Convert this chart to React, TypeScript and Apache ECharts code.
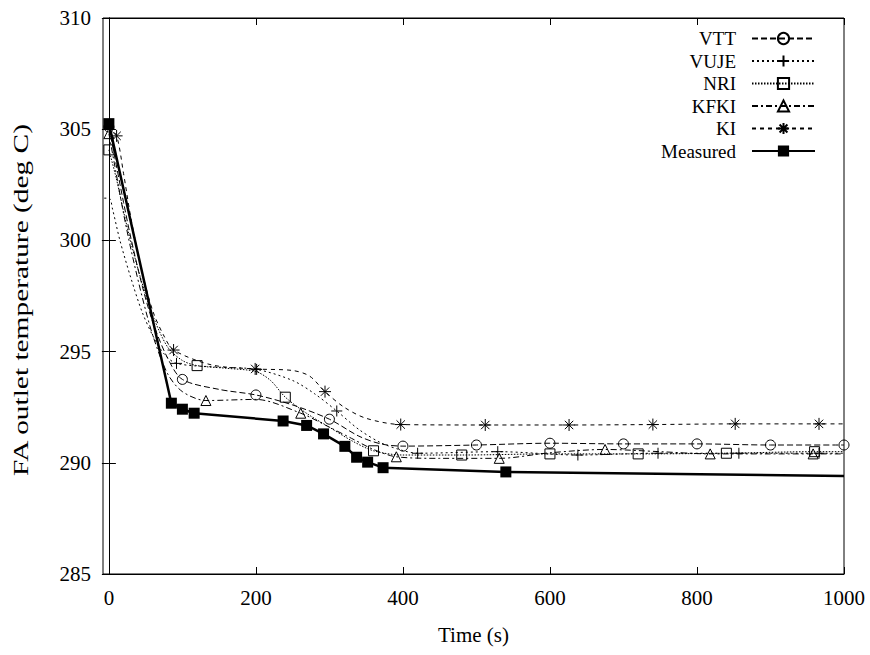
import React, { useEffect, useRef } from "react";
import * as echarts from "echarts";

const FONT = "Liberation Serif";

// x-axis and y-axis ticks
const timeTicks = [0, 200, 400, 600, 800, 1000];
const tempMin = 285;
const tempMax = 310;
const yTitle = "FA outlet temperature (deg C)";

// VTT calculation (marked every 100 s)
const vttTime = [0, 10, 20, 30, 45, 60, 80, 100, 150, 200, 250, 300, 340, 370, 400, 500, 600, 700, 800, 900, 1000];
const vttTemp = [305.1, 303.4, 301.7, 300.1, 298.0, 296.3, 294.7, 293.75, 293.3, 293.05, 292.6, 291.96, 291.2, 290.85, 290.75, 290.8, 290.88, 290.85, 290.85, 290.8, 290.8];
const vttMarked = [1, 0, 0, 0, 0, 0, 0, 1, 0, 1, 0, 1, 0, 0, 1, 1, 1, 1, 1, 1, 1];

// VUJE calculation
const vujeTime = [-20, 0, 5, 15, 30, 45, 60, 75, 92, 150, 201, 250, 280, 310, 340, 370, 400, 420, 529, 638, 747, 857, 966, 1000];
const vujeTemp = [301.9, 301.9, 301.4, 300.0, 298.3, 296.8, 295.7, 294.9, 294.47, 294.3, 294.2, 293.7, 293.1, 292.33, 291.5, 290.9, 290.55, 290.43, 290.5, 290.35, 290.43, 290.43, 290.43, 290.43];
const vujeMarked = [0, 0, 0, 0, 0, 0, 0, 0, 1, 0, 1, 0, 0, 1, 0, 0, 0, 1, 1, 1, 1, 1, 1, 0];

// NRI calculation
const nriTime = [0, 10, 20, 30, 45, 60, 80, 100, 120, 160, 200, 220, 240, 270, 300, 330, 360, 400, 480, 600, 720, 840, 960, 1000];
const nriTemp = [304.07, 302.8, 301.3, 299.9, 298.1, 296.6, 295.2, 294.6, 294.37, 294.25, 294.1, 293.7, 292.95, 292.2, 291.6, 291.0, 290.54, 290.35, 290.35, 290.4, 290.4, 290.43, 290.5, 290.5];
const nriMarked = [1, 0, 0, 0, 0, 0, 0, 0, 1, 0, 0, 0, 1, 0, 0, 0, 1, 0, 1, 1, 1, 1, 1, 0];

// KFKI calculation
const kfkiTime = [0, 10, 20, 30, 45, 60, 80, 100, 132, 200, 261, 300, 330, 360, 391, 450, 531, 600, 675, 750, 818, 900, 958, 1000];
const kfkiTemp = [304.8, 303.0, 301.2, 299.6, 297.5, 295.7, 294.0, 293.2, 292.8, 292.85, 292.23, 291.6, 291.1, 290.6, 290.27, 290.2, 290.2, 290.45, 290.6, 290.5, 290.4, 290.4, 290.4, 290.4];
const kfkiMarked = [1, 0, 0, 0, 0, 0, 0, 0, 1, 0, 1, 0, 0, 0, 1, 0, 1, 0, 1, 0, 1, 0, 1, 0];

// KI calculation
const kiTime = [0, 10.5, 20, 30, 45, 60, 75, 88, 140, 199, 250, 273, 294, 320, 350, 397, 512, 626, 740, 852, 966, 1000];
const kiTemp = [305.1, 304.7, 303.0, 301.0, 298.6, 296.8, 295.7, 295.07, 294.4, 294.22, 294.15, 293.9, 293.2, 292.5, 292.0, 291.72, 291.7, 291.7, 291.72, 291.75, 291.75, 291.75];
const kiMarked = [0, 1, 0, 0, 0, 0, 0, 1, 0, 1, 0, 0, 1, 0, 0, 1, 1, 1, 1, 1, 1, 0];

// Measured FA outlet temperature
const measTime = [0, 85, 100, 116, 237, 269, 292, 321, 337, 352, 373, 540, 1000];
const measTemp = [305.25, 292.68, 292.41, 292.23, 291.88, 291.68, 291.3, 290.74, 290.25, 290.03, 289.78, 289.59, 289.41];
const measMarked = [1, 1, 1, 1, 1, 1, 1, 1, 1, 1, 1, 1, 0];

const PLUS = "path://M0,5H10M5,0V10";
const STAR = "path://M0,5H10M5,0V10M1.5,1.5L8.5,8.5M8.5,1.5L1.5,8.5";

function points(time: number[], temp: number[], marked: number[]) {
  return time.map((t, i) =>
    marked[i] ? { value: [t, temp[i]] } : { value: [t, temp[i]], symbol: "none" }
  );
}

function simSeries(
  name: string,
  time: number[],
  temp: number[],
  marked: number[],
  symbol: string,
  symbolSize: number,
  dash: number[]
) {
  return {
    name,
    type: "line",
    data: points(time, temp, marked),
    smooth: 0.3,
    symbol,
    symbolSize,
    showSymbol: true,
    showAllSymbol: true,
    clip: true,
    lineStyle: { color: "#000", width: 1, type: dash },
    itemStyle: { color: "transparent", borderColor: "#000", borderWidth: 1 },
    emphasis: { disabled: true },
    z: 3,
  };
}

export default function App() {
  const ref = useRef<HTMLDivElement>(null);

  useEffect(() => {
    if (!ref.current) return;
    const chart = echarts.init(ref.current, undefined, { renderer: "svg" });

    const axisCommon = {
      axisLine: { show: true, lineStyle: { color: "#000", width: 1 } },
      splitLine: { show: false },
    };
    const textCommon = { fontFamily: FONT, fontSize: 21, color: "#000" };

    chart.setOption({
      animation: false,
      backgroundColor: "#fff",
      textStyle: { fontFamily: FONT },
      grid: {
        left: 103,
        right: 26,
        top: 18,
        bottom: 81,
        show: true,
        borderColor: "#000",
        borderWidth: 1,
        backgroundColor: "transparent",
      },
      // rotated y-axis title, drawn slightly stretched along its length
      graphic: [
        {
          type: "text",
          x: 21,
          y: 300,
          rotation: Math.PI / 2,
          scaleX: 1.4,
          style: {
            text: yTitle,
            font: `21px ${FONT}`,
            fill: "#000",
            align: "center",
            verticalAlign: "middle",
          },
          silent: true,
        },
      ],
      legend: {
        orient: "vertical",
        right: 54,
        top: 29,
        align: "right",
        padding: 0,
        itemWidth: 63,
        itemHeight: 14,
        itemGap: 3.5,
        selectedMode: false,
        data: ["VTT", "VUJE", "NRI", "KFKI", "KI", "Measured"],
        textStyle: { ...textCommon, fontSize: 19, padding: [0, 11, 0, 0] },
      },
      xAxis: [
        {
          type: "value",
          position: "bottom",
          min: -8,
          max: 1000,
          ...axisCommon,
          axisTick: { show: true, inside: true, length: 7, lineStyle: { color: "#000" }, customValues: timeTicks },
          axisLabel: {
            show: true,
            customValues: timeTicks,
            margin: 13,
            formatter: (v: number) => String(v),
            ...textCommon,
          },
          name: "Time (s)",
          nameLocation: "middle",
          nameGap: 50,
          nameTextStyle: textCommon,
        },
        {
          type: "value",
          position: "top",
          min: -8,
          max: 1000,
          ...axisCommon,
          axisTick: { show: true, inside: true, length: 7, lineStyle: { color: "#000" }, customValues: timeTicks },
          axisLabel: { show: false },
        },
      ],
      yAxis: [
        {
          type: "value",
          position: "left",
          min: tempMin,
          max: tempMax,
          interval: 5,
          ...axisCommon,
          axisTick: { show: true, inside: true, length: 7, lineStyle: { color: "#000" } },
          axisLabel: { show: true, margin: 12, ...textCommon },
        },
        {
          type: "value",
          position: "right",
          min: tempMin,
          max: tempMax,
          interval: 5,
          ...axisCommon,
          axisTick: { show: true, inside: true, length: 7, lineStyle: { color: "#000" } },
          axisLabel: { show: false },
        },
      ],
      series: [
        simSeries("VTT", vttTime, vttTemp, vttMarked, "circle", 10, [6, 3]),
        simSeries("VUJE", vujeTime, vujeTemp, vujeMarked, PLUS, 11, [2, 3]),
        simSeries("NRI", nriTime, nriTemp, nriMarked, "rect", 10, [1.5, 1.5]),
        simSeries("KFKI", kfkiTime, kfkiTemp, kfkiMarked, "triangle", 10, [6, 3, 2, 3]),
        simSeries("KI", kiTime, kiTemp, kiMarked, STAR, 12, [4, 4]),
        {
          name: "Measured",
          type: "line",
          data: points(measTime, measTemp, measMarked),
          smooth: false,
          symbol: "rect",
          symbolSize: 11,
          showSymbol: true,
          showAllSymbol: true,
          lineStyle: { color: "#000", width: 2.5, type: "solid" },
          itemStyle: { color: "#000", borderColor: "#000", borderWidth: 0 },
          emphasis: { disabled: true },
          z: 4,
        },
      ],
    });

    return () => chart.dispose();
  }, []);

  return (
    <div
      ref={ref}
      style={{ position: "absolute", left: 0, top: 0, width: 870, height: 655, background: "#fff" }}
    />
  );
}
